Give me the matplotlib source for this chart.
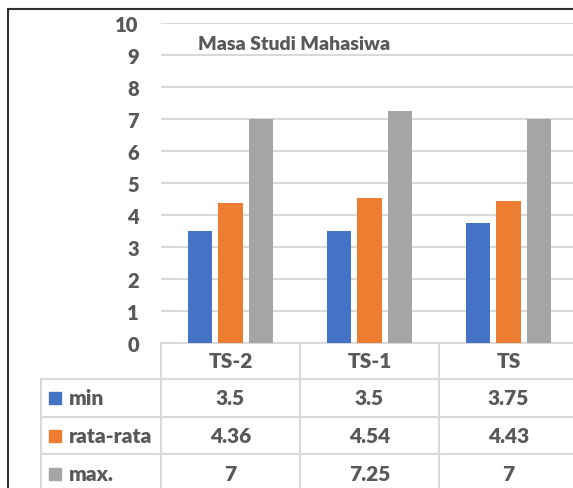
import matplotlib.pyplot as plt
import matplotlib.patches as patches
import numpy as np

plt.rcParams['font.family'] = ['Lato', 'DejaVu Sans']

categories = ['TS-2', 'TS-1', 'TS']
series = ['min', 'rata-rata', 'max.']
val_min = [3.5, 3.5, 3.75]
val_avg = [4.36, 4.54, 4.43]
val_max = [7, 7.25, 7]
labels_min = ['3.5', '3.5', '3.75']
labels_avg = ['4.36', '4.54', '4.43']
labels_max = ['7', '7.25', '7']

colors = ['#4472C4', '#ED7D31', '#A5A5A5']
txt = '#595959'
grid = '#D9D9D9'
fs = 15

W, H = 573, 489
fig = plt.figure(figsize=(W / 100, H / 100), dpi=100)
# plot area runs past the right edge (cropped picture)
ax = fig.add_axes([161 / W, 1 - 344 / H, (578 - 161) / W, 320 / H])

x = np.arange(len(categories))
bw = 0.173
step = 0.222
for i, vals in enumerate([val_min, val_avg, val_max]):
    ax.bar(x + (i - 1) * step, vals, bw, color=colors[i], zorder=3)

ax.set_xlim(-0.5, 2.5)
ax.set_ylim(0, 10)
ax.set_yticks(range(0, 11))
ax.yaxis.grid(True, color=grid, lw=1.5, zorder=0)
for s in ax.spines.values():
    s.set_visible(False)
ax.tick_params(axis='y', length=0, pad=16, labelsize=fs - 0.5, labelcolor=txt)
for t in ax.get_yticklabels():
    t.set_fontweight('heavy')
ax.set_xticks([])

# data table below the plot
tr = ax.get_xaxis_transform()
px = 1 / 320  # one pixel in axes fraction (vertical)
rows = [0, -36 * px, -74 * px, -111 * px, -150 * px]
left = -0.5 - 120 / 139
lk = dict(color=grid, lw=1.5, transform=tr, clip_on=False)
ax.plot([-0.5, 2.6], [0, 0], **lk)
for r in rows[1:4]:
    ax.plot([left, 2.6], [r, r], **lk)
for xv in [-0.5, 0.5, 1.5, 2.5]:
    ax.plot([xv, xv], [0, rows[-1]], **lk)
ax.plot([left, left], [rows[1], rows[-1]], **lk)

tk = dict(transform=tr, ha='center', va='center', fontsize=fs,
          fontweight='heavy', color=txt, clip_on=False)
for i, c in enumerate(categories):
    ax.text(i, (rows[0] + rows[1]) / 2, c, **tk)
for j, (name, labs) in enumerate(zip(series, [labels_min, labels_avg, labels_max])):
    yc = (rows[j + 1] + rows[j + 2]) / 2
    ax.plot([left + 14 / 139], [yc], marker='s', ms=9, color=colors[j],
            transform=tr, clip_on=False)
    ax.text(left + 28 / 139, yc, name, **{**tk, 'ha': 'left'})
    for i, lab in enumerate(labs):
        ax.text(i, yc, lab, **tk)

fig.text(198 / W, 1 - 44 / H, 'Masa Studi Mahasiwa', ha='left', va='center',
         fontsize=14, fontweight='heavy', color=txt)

fig.add_artist(patches.Rectangle((8 / W, -0.1), 2, 1.1 - 9.5 / H,
                                 transform=fig.transFigure, fill=False,
                                 ec='#303030', lw=1.5))

fig.savefig('out.png', dpi=100)
